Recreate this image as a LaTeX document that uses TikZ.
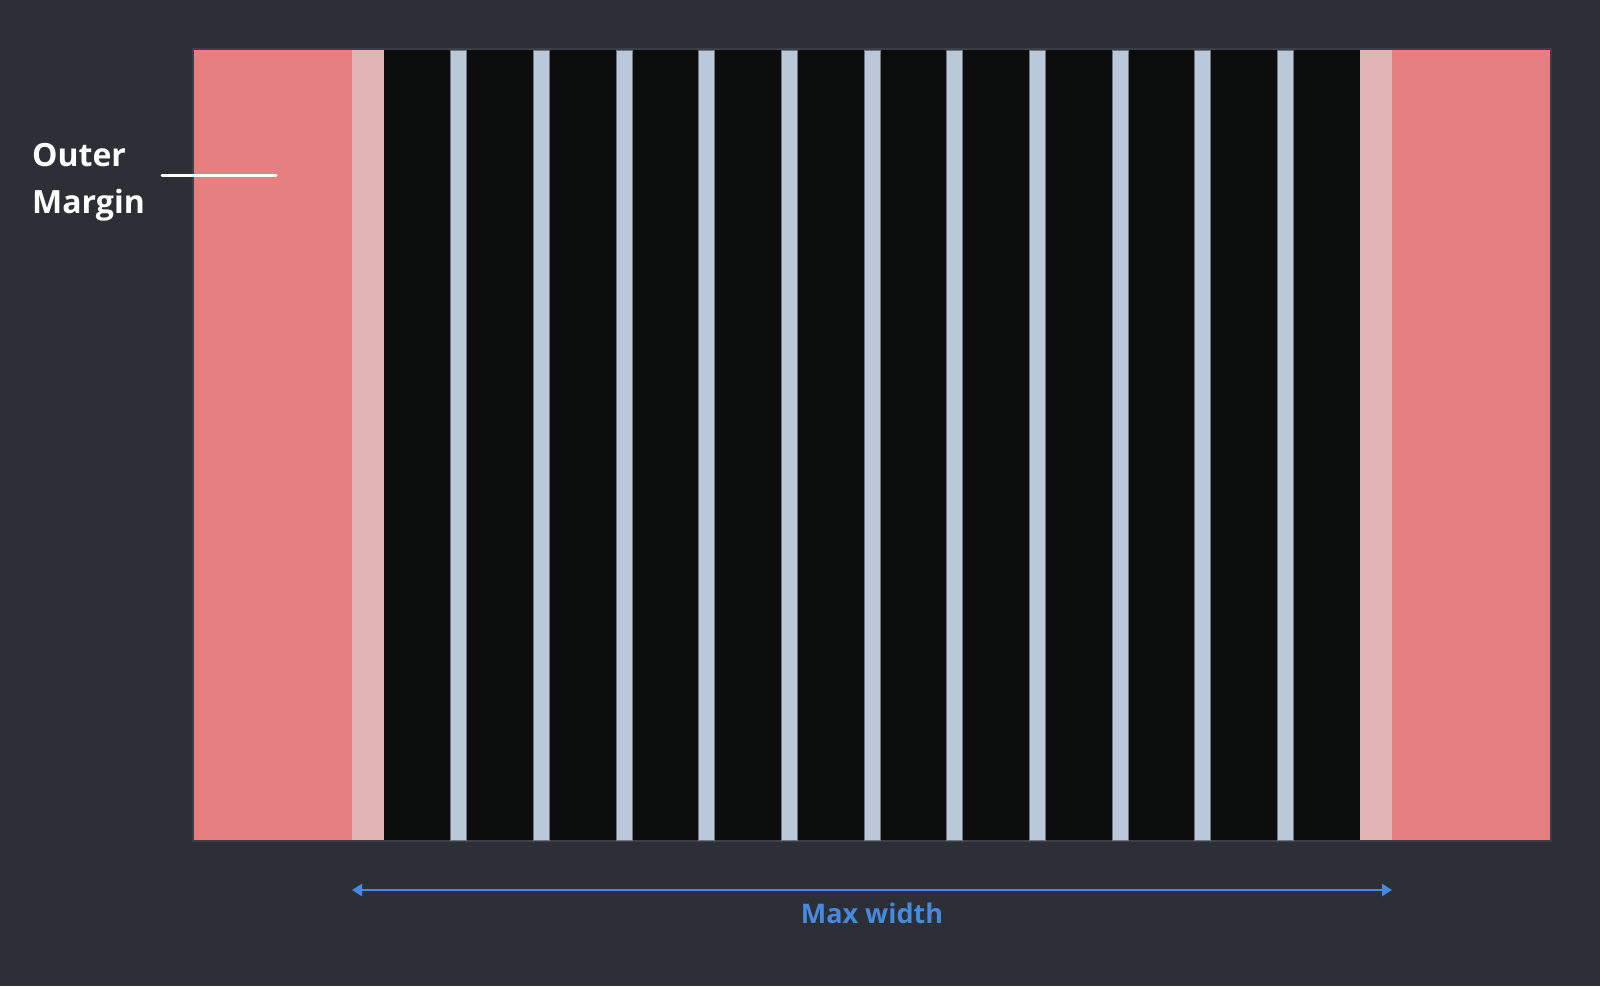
\documentclass[tikz,border=0pt]{standalone}
\usepackage{fontspec}
\setmainfont{Open Sans}
\usetikzlibrary{arrows.meta}
\definecolor{bgc}{HTML}{2C2F35}
\definecolor{framec}{HTML}{3B3F47}
\definecolor{pinkc}{HTML}{E67F7F}
\definecolor{lpinkc}{HTML}{E2B4B4}
\definecolor{blkc}{HTML}{0C0E0D}
\definecolor{gutc}{HTML}{BAC8D9}
\definecolor{gutedge}{HTML}{6E7683}
\definecolor{bluec}{HTML}{4689DF}
\tikzset{
  gutter/.style={fill=gutc, draw=gutedge, line width=0.8pt},
  lbl/.style={anchor=base west, text=white, inner sep=0pt, font=\bfseries\fontsize{32}{47}\selectfont},
  dimarrow/.style={draw=bluec, line width=2.5pt, {Triangle[length=10pt,width=12pt]}-{Triangle[length=10pt,width=12pt]}},
  leader/.style={draw=white, line width=3pt, line cap=round}
}
\begin{document}
\begin{tikzpicture}[x=1pt,y=-1pt]
\fill[bgc] (0,0) rectangle (1600,986);
\useasboundingbox (0,0) rectangle (1600,986);
\fill[framec] (192,48) rectangle (1552,842);
\fill[pinkc] (194,50) rectangle (352,840);
\fill[lpinkc] (352,50) rectangle (384,840);
\fill[blkc] (384,50) rectangle (1360,840);
\fill[lpinkc] (1360,50) rectangle (1392,840);
\fill[pinkc] (1392,50) rectangle (1550,840);
\foreach \i in {1,...,11} {
  \pgfmathsetmacro\gx{384+\i*66.6667+(\i-1)*16}
  \draw[gutter] (\gx,50) rectangle ++(16,790);
}
\node[lbl] (outer) at (32,166) {Outer};
\node[lbl] (margin) at (32,213.5) {Margin};
\coordinate (leadA) at (162,175.7);
\coordinate (leadB) at (276,175.7);
\draw[leader] (leadA) -- (leadB);
\coordinate (aL) at (352,890);
\coordinate (aR) at (1392,890);
\draw[dimarrow] (aL) -- (aR);
\node[anchor=base, inner sep=0pt, text=bluec, font=\bfseries\fontsize{27}{32}\selectfont] (maxw) at (872,923.3) {Max width};
\end{tikzpicture}
\end{document}
